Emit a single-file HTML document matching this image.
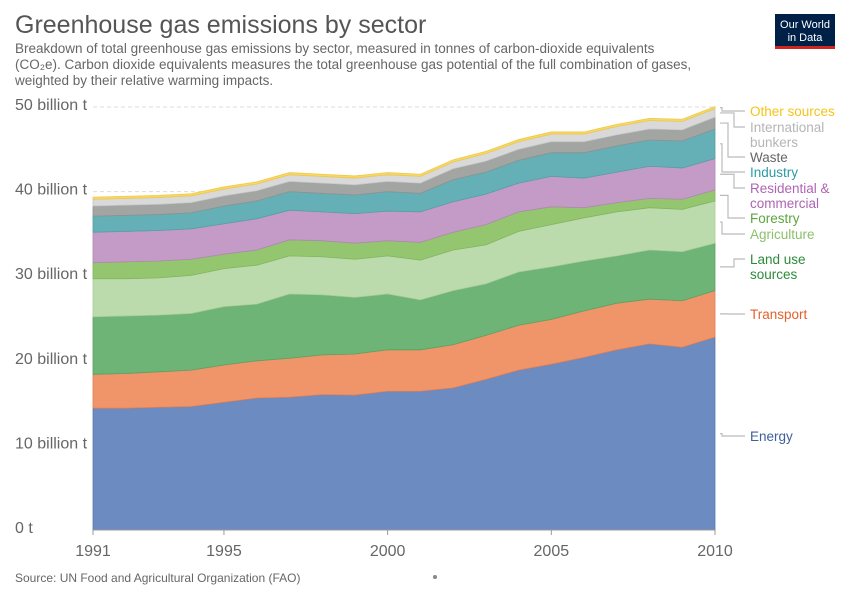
<!DOCTYPE html>
<html><head><meta charset="utf-8">
<style>
body{margin:0;background:#fff;font-family:"Liberation Sans",sans-serif;}
#wrap{position:relative;width:850px;height:600px;overflow:hidden;}
</style></head>
<body>
<div id="wrap">
<svg id="svg" width="850" height="600" xmlns="http://www.w3.org/2000/svg">
<text x="15" y="33" font-size="25" fill="#555">Greenhouse gas emissions by sector</text>
<text x="15" y="53" font-size="13.5" fill="#666">Breakdown of total greenhouse gas emissions by sector, measured in tonnes of carbon-dioxide equivalents</text>
<text x="15" y="69" font-size="13.5" fill="#666">(CO₂e). Carbon dioxide equivalents measures the total greenhouse gas potential of the full combination of gases,</text>
<text x="15" y="85" font-size="13.5" fill="#666">weighted by their relative warming impacts.</text>
<g>
<rect x="775" y="14" width="60" height="35" fill="#002147"/>
<rect x="775" y="46" width="60" height="3" fill="#ce261e"/>
<text x="805" y="28" font-size="11" fill="#fff" text-anchor="middle">Our World</text>
<text x="805" y="41" font-size="11" fill="#fff" text-anchor="middle">in Data</text>
</g>
<g id="grid"></g>
<g id="areas"></g>
<g id="axes"></g>
<g id="legend"></g>
<text x="15" y="582" font-size="12" fill="#666">Source: UN Food and Agricultural Organization (FAO)</text>
<circle cx="435" cy="577" r="2" fill="#888"/>
</svg>
</div>
<script>
const years=[1991,1992,1993,1994,1995,1996,1997,1998,1999,2000,2001,2002,2003,2004,2005,2006,2007,2008,2009,2010];
const energy=[14.4,14.4,14.5,14.6,15.1,15.6,15.7,16.0,15.95,16.4,16.4,16.8,17.8,18.9,19.6,20.4,21.3,22.0,21.6,22.8];
const transport=[4.0,4.1,4.2,4.3,4.4,4.4,4.6,4.7,4.85,4.9,4.9,5.1,5.2,5.3,5.3,5.5,5.5,5.3,5.5,5.5];
const landUse=[6.8,6.8,6.7,6.7,6.9,6.7,7.6,7.1,6.7,6.6,5.9,6.4,6.1,6.3,6.2,5.9,5.6,5.8,5.8,5.6];
const agriculture=[4.5,4.4,4.4,4.5,4.5,4.6,4.5,4.5,4.5,4.5,4.7,4.8,4.6,4.8,5.0,5.1,5.2,5.0,5.0,5.0];
const forestry=[1.9,2.0,2.0,1.9,1.7,1.8,1.9,1.9,1.9,1.8,2.1,2.1,2.4,2.3,2.1,1.2,1.1,1.1,1.2,1.3];
const residential=[3.6,3.6,3.6,3.6,3.6,3.7,3.5,3.4,3.5,3.5,3.6,3.6,3.6,3.4,3.6,3.5,3.6,3.8,3.7,3.7];
const industry=[1.9,1.9,1.9,1.9,2.1,2.1,2.2,2.2,2.2,2.3,2.2,2.6,2.6,2.7,2.8,3.0,3.1,3.1,3.2,3.5];
const waste=[1.2,1.2,1.2,1.2,1.2,1.2,1.2,1.2,1.2,1.2,1.2,1.3,1.3,1.3,1.3,1.3,1.3,1.3,1.3,1.4];
const bunkers=[0.8,0.8,0.8,0.8,0.8,0.8,0.8,0.8,0.8,0.8,0.8,0.8,0.9,0.9,0.9,0.9,1.0,1.0,1.0,1.0];
const other=[0.25,0.25,0.25,0.25,0.25,0.25,0.25,0.25,0.25,0.25,0.25,0.25,0.25,0.25,0.25,0.25,0.25,0.25,0.25,0.25];
const yTicks=[0,10,20,30,40,50];
const yTickLabels=["0 t","10 billion t","20 billion t","30 billion t","40 billion t","50 billion t"];
const xTicks=[1991,1995,2000,2005,2010];

const NS="http://www.w3.org/2000/svg";
const X0=93,X1=715,Y0=530,YPER=84.6;
function xs(y){return X0+(y-1991)/(2010-1991)*(X1-X0);}
function ys(v){return Y0-v*YPER/10;}
function mk(tag,attrs,parent){const e=document.createElementNS(NS,tag);for(const k in attrs)e.setAttribute(k,attrs[k]);parent.appendChild(e);return e;}

const series=[
 {name:"Energy",vals:energy,fill:"#6b8bc1",stroke:"#5a79ad",lc:"#3f5f9a",lines:["Energy"],ly:[436]},
 {name:"Transport",vals:transport,fill:"#f0956a",stroke:"#e07f55",lc:"#e2612c",lines:["Transport"],ly:[314]},
 {name:"Land use sources",vals:landUse,fill:"#6db476",stroke:"#5aa163",lc:"#2c8b3a",lines:["Land use","sources"],ly:[259,274]},
 {name:"Agriculture",vals:agriculture,fill:"#bcdbad",stroke:"#a8c99a",lc:"#8cc06c",lines:["Agriculture"],ly:[234]},
 {name:"Forestry",vals:forestry,fill:"#94c66f",stroke:"#82b55e",lc:"#5ea63e",lines:["Forestry"],ly:[218]},
 {name:"Residential & commercial",vals:residential,fill:"#c49bc6",stroke:"#b088b2",lc:"#b064b4",lines:["Residential &","commercial"],ly:[188,203]},
 {name:"Industry",vals:industry,fill:"#65b0b6",stroke:"#559fa5",lc:"#2a9ca4",lines:["Industry"],ly:[172]},
 {name:"Waste",vals:waste,fill:"#a3a5a2",stroke:"#909290",lc:"#666",lines:["Waste"],ly:[157]},
 {name:"International bunkers",vals:bunkers,fill:"#d9d9d9",stroke:"#c5c5c5",lc:"#b5b5b5",lines:["International","bunkers"],ly:[127,142]},
 {name:"Other sources",vals:other,fill:"#f8d866",stroke:"#eec94a",lc:"#f4c417",lines:["Other sources"],ly:[111]}
];

const grid=document.getElementById('grid'),axes=document.getElementById('axes'),areas=document.getElementById('areas'),legend=document.getElementById('legend');
yTicks.forEach((t,i)=>{
 const l=mk('line',{x1:X0,x2:X1,y1:ys(t),y2:ys(t),stroke:"#ddd","stroke-dasharray":"4,3"},grid);
 
 
 const tx=mk('text',{x:15,y:ys(t)+3,"font-size":"16",fill:"#666"},axes);tx.textContent=yTickLabels[i];
 
 
});
xTicks.forEach(t=>{
 const tx=mk('text',{x:xs(t),y:556,"font-size":"16",fill:"#666","text-anchor":"middle"},axes);tx.textContent=t;
 
 
 const tk=mk('line',{x1:xs(t),x2:xs(t),y1:Y0,y2:Y0+5,stroke:"#999"},axes);
 
 
});
const base=years.map(()=>0);
const mids=[];
series.forEach((s,si)=>{
 const top=base.map((b,i)=>b+s.vals[i]);
 let d="M"+years.map((y,i)=>xs(y)+","+ys(top[i])).join("L");
 for(let i=years.length-1;i>=0;i--)d+="L"+xs(years[i])+","+ys(base[i]);
 d+="Z";
 const p=mk('path',{d:d,fill:s.fill,stroke:s.stroke,"stroke-width":"0.8"},areas);
 
 
 mids.push(ys((base[19]+top[19])/2));
 for(let i=0;i<base.length;i++)base[i]=top[i];
});
const axl=mk('line',{x1:X0,x2:X1,y1:Y0,y2:Y0,stroke:"#999"},axes);


series.forEach((s,si)=>{
 const ym=mids[si];const ly=s.ly[0];
 const ex=722+((si%3)*6);
 const pl=mk('polyline',{points:`720,${ym} ${ex},${ym} ${ex},${ly} 745,${ly}`,fill:"none",stroke:"#bbb","stroke-width":"1.2"},legend);
 
 
 s.lines.forEach((ln,j)=>{
  const t=mk('text',{x:750,y:s.ly[j]+5,"font-size":"13.5",fill:s.lc},legend);t.textContent=ln;
  
  
 });
});
</script>
</body></html>
